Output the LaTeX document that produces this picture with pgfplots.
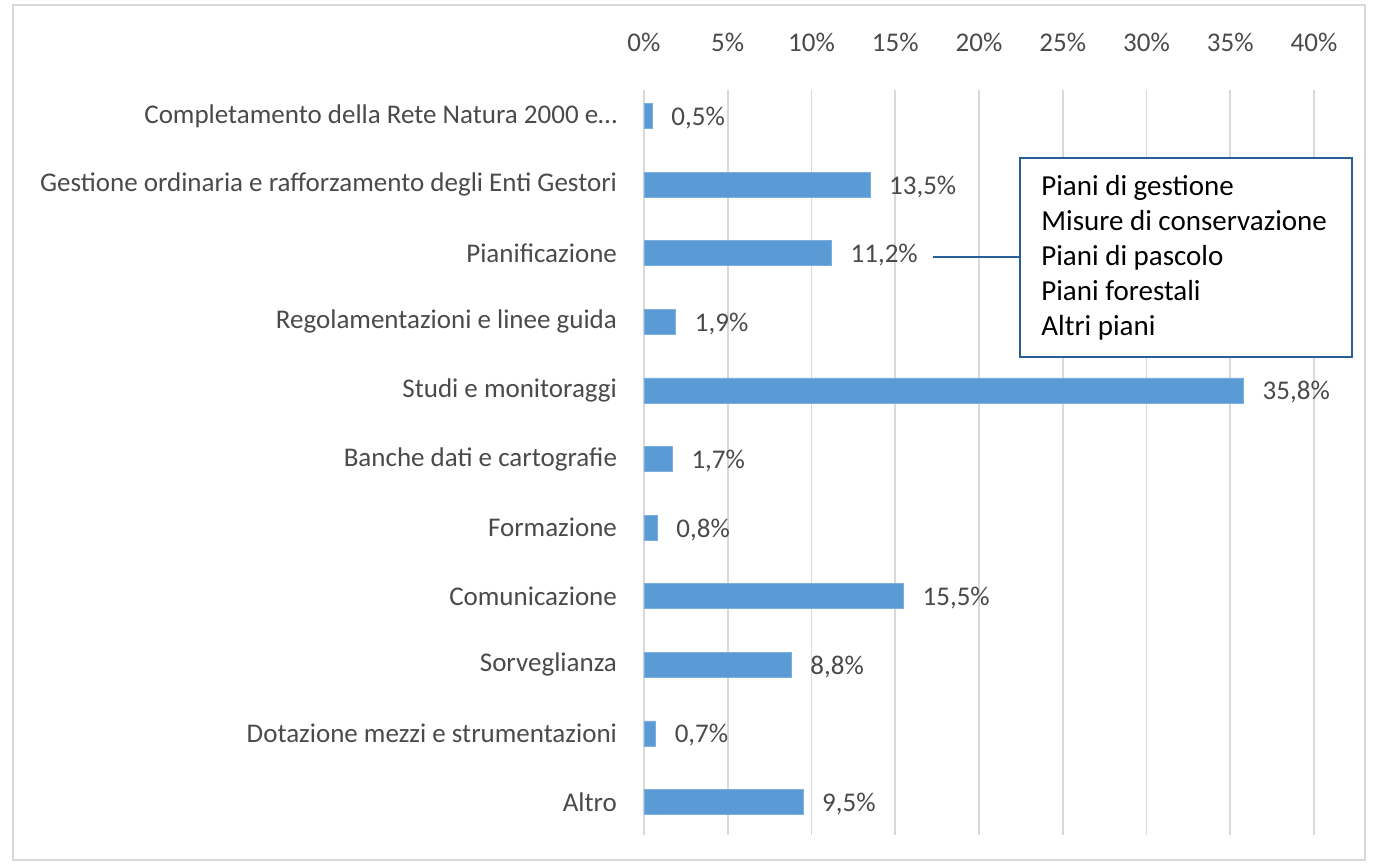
\documentclass[border=0pt]{standalone}
\usepackage{fontspec}
\setmainfont{Carlito}
\usepackage{pgfplots}
\pgfplotsset{compat=1.18}
\definecolor{barblue}{HTML}{5B9BD5}
\definecolor{txtgrey}{HTML}{4A4A4A}
\definecolor{gridgrey}{HTML}{D9D9D9}
\definecolor{boxblue}{HTML}{2A5F95}
\begin{document}
\begin{tikzpicture}
\useasboundingbox (-322pt,-15pt) rectangle (364.5pt,417.5pt);
\draw[gridgrey, line width=0.8pt] (-315.5pt,-12.5pt) rectangle (360.5pt,415pt);
\begin{axis}[
  at={(0pt,0pt)}, anchor=south west,
  scale only axis, width=335pt, height=372.5pt,
  xbar, bar width=12.5pt,
  xmin=0, xmax=40,
  y dir=reverse, ymin=-0.38, ymax=10.48,
  ytick={0,1,2,3,4,5,6,7,8,9,10},
  yticklabels={{Completamento della Rete Natura 2000 e…},{Gestione ordinaria e rafforzamento degli Enti Gestori},{Pianificazione},{Regolamentazioni e linee guida},{Studi e monitoraggi},{Banche dati e cartografie},{Formazione},{Comunicazione},{Sorveglianza},{Dotazione mezzi e strumentazioni},{Altro}},
  xtick={0,5,10,15,20,25,30,35,40},
  xticklabels={0\%,5\%,10\%,15\%,20\%,25\%,30\%,35\%,40\%},
  xticklabel pos=upper,
  axis line style={draw=none},
  major tick length=0pt,
  xmajorgrids, grid style={gridgrey, line width=0.8pt},
  tick label style={font=\fontsize{13.5}{15}\selectfont, text=txtgrey},
  yticklabel style={xshift=-10pt},
  xticklabel style={yshift=15.5pt},
  clip=false,
  nodes near coords,
  nodes near coords style={font=\fontsize{13.5}{15}\selectfont, text=txtgrey, anchor=west, xshift=6pt, yshift=-1pt,
    /pgf/number format/.cd, use comma, fixed, fixed zerofill, precision=1, assume math mode=true},
  nodes near coords={\pgfmathprintnumber{\pgfplotspointmeta}\%},
]
\addplot[fill=barblue, draw=barblue!80!white, line width=0.4pt] coordinates {
(0.5,0) (13.5,1) (11.2,2) (1.9,3) (35.8,4) (1.7,5) (0.8,6) (15.5,7) (8.8,8) (0.7,9) (9.5,10)};
\draw[boxblue, line width=1pt] (axis cs:17.25,2.06) -- (axis cs:22.45,2.06);
\draw[boxblue, line width=1pt, fill=white] (axis cs:22.45,0.614) rectangle (axis cs:42.27,3.51);
\node[anchor=west, align=left, font=\fontsize{14.5}{17.5}\selectfont, text=black, inner sep=0pt] at (axis cs:23.7,2.06)
 {Piani di gestione\\Misure di conservazione\\Piani di pascolo\\Piani forestali\\Altri piani};
\end{axis}
\end{tikzpicture}
\end{document}
